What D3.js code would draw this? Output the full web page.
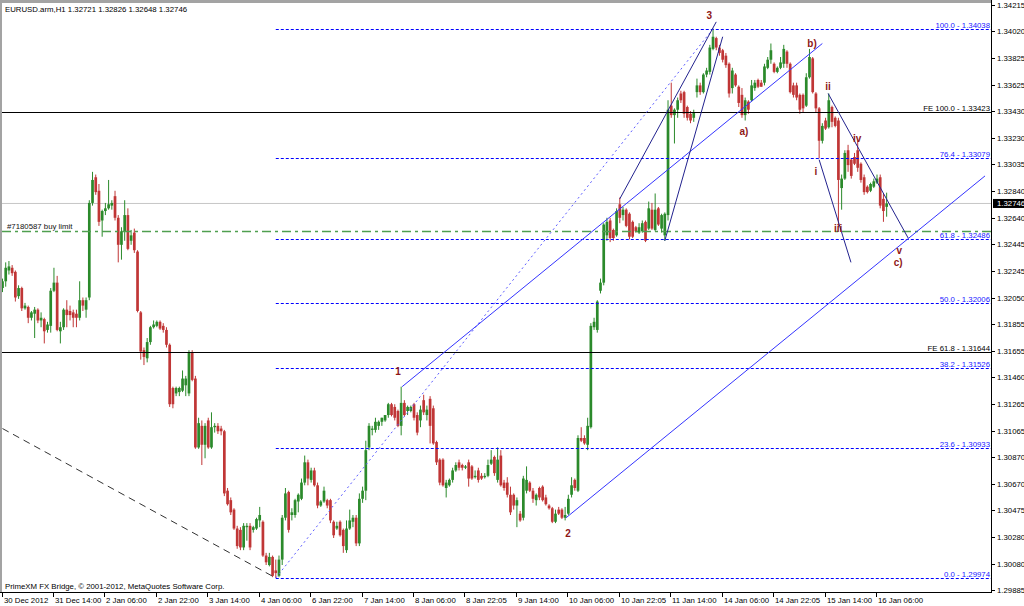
<!DOCTYPE html>
<html><head><meta charset="utf-8">
<script src="https://cdn.jsdelivr.net/npm/d3@7"></script>
<style>body{margin:0;background:#fff;}svg{display:block;}text{font-family:"Liberation Sans",Arial,sans-serif;}</style>
</head><body><svg id="c" width="1024" height="606"></svg>
<script>
// ---------- DATA ----------
const open = [
1.3212,1.3217,1.3225,1.3227,1.3224,1.3206,1.3212,1.3197,1.3198,1.3190,
1.3193,1.3196,1.3188,1.3189,1.3181,1.3184,1.3210,1.3216,1.3180,1.3183,
1.3196,1.3195,1.3194,1.3193,1.3190,1.3203,1.3196,1.3205,1.3275,1.3294,
1.3284,1.3262,1.3269,1.3271,1.3273,1.3280,1.3264,1.3244,1.3254,1.3266,
1.3247,1.3253,1.3239,1.3194,1.3166,1.3160,1.3172,1.3183,1.3184,1.3187,
1.3184,1.3181,1.3170,1.3138,1.3134,1.3135,1.3136,1.3140,1.3134,1.3164,
1.3145,1.3094,1.3110,1.3096,1.3114,1.3094,1.3109,1.3110,1.3108,1.3106,
1.3062,1.3055,1.3048,1.3034,1.3033,1.3020,1.3035,1.3036,1.3033,1.3034,
1.3040,1.3039,1.3014,1.3007,1.3013,1.3003,
1.2999,1.3011,1.3042,1.3061,1.3044,1.3044,1.3054,1.3056,1.3068,1.3083,
1.3070,1.3077,1.3066,1.3051,1.3054,1.3055,1.3055,1.3039,1.3034,1.3039,
1.3033,1.3018,1.3034,1.3039,1.3042,1.3023,1.3056,1.3062,1.3094,1.3107,
1.3107,1.3110,1.3113,1.3114,1.3118,1.3126,1.3124,1.3121,1.3110,1.3127,
1.3121,1.3121,1.3126,1.3118,1.3114,1.3129,1.3118,1.3130,1.3123,1.3098,
1.3085,1.3085,1.3064,1.3066,1.3070,1.3077,1.3083,1.3081,1.3079,1.3083,
1.3080,1.3072,1.3077,1.3073,1.3072,1.3073,1.3082,1.3087,1.3070,1.3088,
1.3068,1.3068,1.3059,1.3059,1.3051,1.3045,1.3042,1.3062,1.3068,1.3062,
1.3055,1.3064,1.3065,1.3057,1.3051,1.3049,1.3039,1.3048,1.3048,1.3042,
1.3045,1.3059,1.3070,1.3062,1.3101,1.3101,1.3096,
1.3109,1.3183,1.3181,1.3210,1.3216,1.3251,1.3262,1.3255,1.3251,1.3274,
1.3266,1.3270,1.3267,1.3261,1.3257,1.3253,1.3254,1.3261,1.3256,1.3270,
1.3255,1.3271,1.3256,1.3251,1.3266,1.3347,1.3340,1.3344,1.3356,1.3357,
1.3346,1.3341,1.3338,1.3357,1.3362,1.3357,1.3370,1.3372,1.3389,1.3397,
1.3390,1.3388,1.3384,1.3378,1.3360,1.3370,
1.3361,1.3355,1.3340,1.3350,1.3351,1.3360,1.3366,1.3364,1.3364,1.3375,
1.3381,1.3378,1.3372,1.3375,1.3378,1.3387,1.3378,1.3362,1.3362,1.3355,
1.3355,1.3347,1.3368,1.3382,1.3356,1.3345,1.3321,1.3336,1.3331,1.3346,
1.3338,1.3336,1.3286,1.3293,1.3314,1.3307,1.3309,1.3314,1.3304,1.3294,
1.3287,1.3284,1.3287,1.3290,1.3294,1.3278,1.32721];
const high = [
1.3219,1.3231,1.3232,1.3229,1.3225,1.3214,1.3213,1.3201,1.3199,1.3195,
1.3198,1.3197,1.3194,1.3190,1.3187,1.3212,1.3227,1.3221,1.3187,1.3197,
1.3203,1.3199,1.3196,1.3196,1.3217,1.3205,1.3205,1.3277,1.3298,1.3296,
1.3289,1.3270,1.3275,1.3292,1.3277,1.3284,1.3266,1.3257,1.3277,1.3271,
1.3255,1.3256,1.3240,1.3195,1.3168,1.3175,1.3184,1.3188,1.3188,1.3188,
1.3186,1.3183,1.3171,1.3139,1.3139,1.3139,1.3151,1.3147,1.3166,1.3166,
1.3147,1.3116,1.3114,1.3112,1.3116,1.3120,1.3112,1.3112,1.3110,1.3107,
1.3064,1.3057,1.3049,1.3036,1.3035,1.3038,1.3038,1.3038,1.3036,1.3042,
1.3050,1.3040,1.3016,1.3016,1.3014,1.3011,
1.3014,1.3044,1.3064,1.3062,1.3049,1.3056,1.3060,1.3071,1.3088,1.3085,
1.3079,1.3079,1.3068,1.3055,1.3065,1.3056,1.3056,1.3040,1.3039,1.3040,
1.3034,1.3040,1.3048,1.3044,1.3044,1.3060,1.3065,1.3099,1.3112,1.3110,
1.3116,1.3114,1.3116,1.3118,1.3127,1.3127,1.3126,1.3122,1.3139,1.3129,
1.3125,1.3125,1.3127,1.3120,1.3125,1.3133,1.3125,1.3132,1.3125,1.3099,
1.3086,1.3086,1.3070,1.3071,1.3079,1.3083,1.3085,1.3082,1.3081,1.3085,
1.3081,1.3077,1.3079,1.3075,1.3075,1.3085,1.3092,1.3088,1.3094,1.3092,
1.3070,1.3072,1.3065,1.3060,1.3057,1.3047,1.3073,1.3080,1.3069,1.3064,
1.3060,1.3065,1.3066,1.3059,1.3052,1.3050,1.3048,1.3050,1.3049,1.3050,
1.3059,1.3072,1.3071,1.3103,1.3109,1.3103,1.3116,
1.3186,1.3190,1.3203,1.3219,1.3260,1.3264,1.3264,1.3256,1.3271,1.3279,
1.3272,1.3271,1.3268,1.3262,1.3258,1.3260,1.3262,1.3262,1.3276,1.3275,
1.3282,1.3272,1.3267,1.3268,1.3351,1.3364,1.3345,1.3353,1.3358,1.3358,
1.3347,1.3343,1.3344,1.3367,1.3364,1.3371,1.3375,1.3392,1.3404,1.3398,
1.3392,1.3389,1.3386,1.3379,1.3375,1.3371,
1.3362,1.3360,1.3353,1.3351,1.3366,1.3366,1.3367,1.3366,1.3378,1.3383,
1.3393,1.3379,1.3376,1.3383,1.3392,1.3388,1.3379,1.3364,1.3364,1.3356,
1.3356,1.3371,1.3389,1.3383,1.3357,1.3346,1.3334,1.3338,1.3356,1.3347,
1.3339,1.3338,1.3296,1.3314,1.3318,1.3308,1.3312,1.3321,1.3305,1.3296,
1.3288,1.3290,1.3293,1.3296,1.3296,1.3282,1.32826];
const low = [
1.3209,1.3213,1.3222,1.3221,1.3202,1.3204,1.3195,1.3196,1.3186,1.3188,
1.3175,1.3186,1.3183,1.3171,1.3179,1.3179,1.3209,1.3180,1.3171,1.3181,
1.3183,1.3188,1.3183,1.3183,1.3188,1.3195,1.3190,1.3203,1.3273,1.3281,
1.3258,1.3250,1.3266,1.3270,1.3270,1.3262,1.3231,1.3233,1.3247,1.3240,
1.3244,1.3238,1.3194,1.3159,1.3155,1.3157,1.3170,1.3182,1.3183,1.3181,
1.3179,1.3168,1.3124,1.3123,1.3132,1.3132,1.3135,1.3132,1.3132,1.3143,
1.3093,1.3093,1.3081,1.3086,1.3093,1.3093,1.3105,1.3104,1.3103,1.3058,
1.3051,1.3044,1.3033,1.3019,1.3018,1.3018,1.3025,1.3018,1.3031,1.3033,
1.3035,1.3013,1.3007,1.3006,1.2998,1.29974,
1.2998,1.3007,1.3040,1.3031,1.3040,1.3042,1.3046,1.3055,1.3066,1.3066,
1.3068,1.3065,1.3049,1.3050,1.3053,1.3049,1.3038,1.3027,1.3033,1.3028,
1.3016,1.3016,1.3033,1.3035,1.3021,1.3021,1.3053,1.3055,1.3092,1.3103,
1.3105,1.3107,1.3110,1.3113,1.3116,1.3117,1.3114,1.3109,1.3103,1.3117,
1.3118,1.3120,1.3114,1.3103,1.3109,1.3118,1.3114,1.3097,1.3096,1.3081,
1.3066,1.3065,1.3057,1.3065,1.3068,1.3076,1.3077,1.3077,1.3078,1.3065,
1.3070,1.3071,1.3068,1.3070,1.3071,1.3072,1.3081,1.3073,1.3068,1.3065,
1.3062,1.3057,1.3044,1.3048,1.3035,1.3039,1.3040,1.3060,1.3061,1.3053,
1.3051,1.3055,1.3054,1.3051,1.3048,1.3038,1.3038,1.3044,1.3041,1.3040,
1.3044,1.3057,1.3062,1.3061,1.3098,1.3096,1.3092,
1.3108,1.3181,1.3179,1.3208,1.3214,1.3247,1.3246,1.3247,1.3250,1.3260,
1.3262,1.3257,1.3248,1.3249,1.3253,1.3252,1.3253,1.3246,1.3255,1.3255,
1.3254,1.3258,1.3253,1.3247,1.3262,1.3338,1.3319,1.3338,1.3349,1.3338,
1.3336,1.3334,1.3335,1.3353,1.3355,1.3356,1.3368,1.3370,1.3388,1.3388,
1.3384,1.3379,1.3375,1.3353,1.3356,1.3361,
1.3346,1.3338,1.3336,1.3341,1.3350,1.3358,1.3360,1.3361,1.3362,1.3374,
1.3378,1.3371,1.3371,1.3374,1.3375,1.3375,1.3356,1.3353,1.3351,1.3341,
1.3342,1.3346,1.3367,1.3356,1.3342,1.3308,1.3319,1.3329,1.3330,1.3331,
1.3331,1.3257,1.3270,1.3292,1.3298,1.3293,1.3303,1.3298,1.3290,1.3281,
1.3282,1.3283,1.3286,1.3289,1.3271,1.3261,1.32648];
const close = [
1.3217,1.3227,1.3228,1.3223,1.3205,1.3212,1.3197,1.3199,1.3190,1.3194,
1.3196,1.3188,1.3190,1.3180,1.3185,1.3210,1.3216,1.3181,1.3183,1.3196,
1.3192,1.3192,1.3190,1.3190,1.3203,1.3199,1.3203,1.3275,1.3292,1.3283,
1.3261,1.3269,1.3271,1.3274,1.3275,1.3264,1.3244,1.3254,1.3266,1.3241,
1.3251,1.3240,1.3195,1.3165,1.3161,1.3172,1.3183,1.3185,1.3187,1.3182,
1.3181,1.3170,1.3126,1.3126,1.3138,1.3138,1.3145,1.3145,1.3164,1.3144,
1.3094,1.3112,1.3096,1.3110,1.3094,1.3109,1.3110,1.3106,1.3106,1.3060,
1.3052,1.3046,1.3034,1.3021,1.3020,1.3036,1.3036,1.3020,1.3035,1.3041,
1.3044,1.3014,1.3009,1.3013,1.2999,1.3001,
1.3011,1.3042,1.3060,1.3033,1.3046,1.3055,1.3059,1.3068,1.3083,1.3071,
1.3077,1.3066,1.3051,1.3054,1.3062,1.3051,1.3040,1.3029,1.3036,1.3029,
1.3021,1.3034,1.3040,1.3042,1.3023,1.3056,1.3062,1.3092,1.3110,1.3108,
1.3113,1.3113,1.3116,1.3118,1.3126,1.3118,1.3116,1.3110,1.3127,1.3118,
1.3124,1.3124,1.3116,1.3105,1.3122,1.3120,1.3122,1.3110,1.3097,1.3083,
1.3068,1.3066,1.3068,1.3070,1.3077,1.3081,1.3079,1.3079,1.3080,1.3071,
1.3071,1.3073,1.3070,1.3071,1.3073,1.3081,1.3085,1.3075,1.3085,1.3066,
1.3064,1.3059,1.3046,1.3051,1.3055,1.3040,1.3071,1.3070,1.3062,1.3056,
1.3059,1.3057,1.3055,1.3052,1.3049,1.3039,1.3045,1.3045,1.3042,1.3044,
1.3056,1.3066,1.3064,1.3101,1.3099,1.3097,1.3110,
1.3184,1.3187,1.3202,1.3216,1.3259,1.3261,1.3249,1.3249,1.3269,1.3264,
1.3270,1.3258,1.3250,1.3250,1.3254,1.3257,1.3260,1.3247,1.3271,1.3256,
1.3270,1.3259,1.3266,1.3267,1.3344,1.3340,1.3344,1.3351,1.3351,1.3341,
1.3338,1.3336,1.3342,1.3362,1.3357,1.3370,1.3373,1.3390,1.3398,1.3390,
1.3386,1.3381,1.3377,1.3356,1.3373,1.3362,
1.3349,1.3340,1.3351,1.3344,1.3362,1.3364,1.3361,1.3361,1.3376,1.3381,
1.3388,1.3372,1.3375,1.3379,1.3389,1.3378,1.3357,1.3355,1.3353,1.3344,
1.3345,1.3368,1.3383,1.3357,1.3345,1.3321,1.3332,1.3330,1.3351,1.3335,
1.3332,1.3292,1.3293,1.3312,1.3303,1.3295,1.3304,1.3301,1.3292,1.3283,
1.3283,1.3289,1.3291,1.3293,1.3273,1.3269,1.32746];

const priceTicks = [1.34215,1.34020,1.33825,1.33625,1.33430,1.33230,1.33035,1.32840,1.32640,1.32445,1.32245,1.32050,1.31855,1.31655,1.31460,1.31265,1.31065,1.30870,1.30670,1.30475,1.30280,1.30080,1.29885];
const timeLabels = ["30 Dec 2012","31 Dec 14:00","2 Jan 06:00","2 Jan 22:00","3 Jan 14:00","4 Jan 06:00","6 Jan 22:00","7 Jan 14:00","8 Jan 06:00","8 Jan 22:05","9 Jan 14:00","10 Jan 06:00","10 Jan 22:05","11 Jan 14:00","14 Jan 06:00","14 Jan 22:05","15 Jan 14:00","16 Jan 06:00"];
const barsPerLabel = 16;
const fibNames = ["100.0","76.4","61.8","50.0","38.2","23.6","0.0"];
const fibPrices = [1.34038,1.33079,1.32486,1.32006,1.31526,1.30933,1.29974];
const fibStartBar = 85;
const feNames = ["FE 100.0","FE 61.8"];
const fePrices = [1.33423,1.31644];
const bidPrice = 1.32746;
const orderLabel = "#7180587 buy limit";
const orderPrice = 1.3254;
const titleText = "EURUSD.arm,H1  1.32721 1.32826 1.32648 1.32746";
const footerText = "PrimeXM FX Bridge, \u00a9 2001-2012, MetaQuotes Software Corp.";
// trend lines: [bar, price] pairs
const dashedTrend = [[0,1.3108],[85,1.29974]];
const fibBaseline = [[85,1.29974],[221,1.34038]];
const channelUpper = [[124.3,1.3139],[255,1.3393]];
const channelLower = [[175.3,1.3042],[305.6,1.3295]];
const wave3A = [[192,1.3278],[222,1.3409]];
const wave3B = [[206,1.3247],[224,1.3398]];
const diagUpper = [[256.8,1.3356],[281.7,1.3249]];
const diagLower = [[254,1.3307],[263.9,1.3231]];
const waveLabels = ["3","1","2","a)","b)","i","ii","iii","iv","v","c)"];
const waveBars   = [219.8,123,175.9,230.6,251.8,253,256.8,259.9,265.8,278.9,278.6];
const wavePrices = [1.3414,1.3150,1.3030,1.3328,1.3393,1.3298,1.3361,1.3256,1.3323,1.3240,1.3231];

// ---------- DRAW ----------
const W=1024,H=606;
const P={l:2,t:3,r:991,b:592};
const x = d3.scaleLinear().domain([0,272]).range([2.5,877]);
const y = d3.scaleLinear().domain([1.29885,1.34215]).range([590,5]);
const svg = d3.select("#c");
svg.append("rect").attr("width",W).attr("height",H).attr("fill","#fff");
svg.append("defs").append("clipPath").attr("id","pc").append("rect")
  .attr("x",P.l).attr("y",P.t).attr("width",P.r-P.l).attr("height",P.b-P.t);
const g = svg.append("g").attr("clip-path","url(#pc)");

// bid line
g.append("line").attr("x1",P.l).attr("x2",P.r).attr("y1",y(bidPrice)).attr("y2",y(bidPrice))
  .attr("stroke","#c6c6c6").attr("stroke-width",1);

// candles
const bars = d3.range(open.length).map(i=>({i,o:open[i],h:high[i],l:low[i],c:close[i]}));
const UP="#2b8a2b", DN="#c03636";
const cg = g.append("g");
cg.selectAll("line.w").data(bars).join("line").attr("class","w")
  .attr("x1",d=>x(d.i)).attr("x2",d=>x(d.i)).attr("y1",d=>y(d.h)).attr("y2",d=>y(d.l))
  .attr("stroke",d=>d.c>=d.o?UP:DN).attr("stroke-width",1);
cg.selectAll("rect.b").data(bars).join("rect").attr("class","b")
  .attr("x",d=>x(d.i)-1.35).attr("width",2.7)
  .attr("y",d=>y(Math.max(d.o,d.c)))
  .attr("height",d=>Math.max(1,Math.abs(y(d.o)-y(d.c))))
  .attr("fill",d=>d.c>=d.o?UP:DN);

// FE lines
feNames.forEach((n,k)=>{
  const yy=Math.round(y(fePrices[k]))+0.5;
  g.append("line").attr("x1",P.l).attr("x2",P.r).attr("y1",yy).attr("y2",yy).attr("stroke","#000").attr("stroke-width",1);
  svg.append("text").attr("x",P.r-1).attr("y",yy-2).attr("text-anchor","end").attr("font-size",7.8)
    .attr("fill","#000").text(n+" - "+fePrices[k].toFixed(5));
});
// fib lines
fibNames.forEach((n,k)=>{
  const yy=Math.round(y(fibPrices[k]))+0.5;
  g.append("line").attr("x1",x(fibStartBar)).attr("x2",P.r).attr("y1",yy).attr("y2",yy)
    .attr("stroke","#0000ff").attr("stroke-width",1).attr("stroke-dasharray","3,2");
  svg.append("text").attr("x",P.r-1).attr("y",yy-2).attr("text-anchor","end").attr("font-size",7.8)
    .attr("fill","#1a1aff").text(n+" - "+fibPrices[k].toFixed(5));
});
// order line
const oy=Math.round(y(orderPrice))+0.5;
g.append("line").attr("x1",P.l).attr("x2",P.r).attr("y1",oy).attr("y2",oy)
  .attr("stroke","#4f9f4f").attr("stroke-width",1.6).attr("stroke-dasharray","9,4,3,4");
svg.append("text").attr("x",7).attr("y",oy-3).attr("font-size",7.8).attr("fill","#111").text(orderLabel);

// trend lines
const seg=(pts,color,dash,w)=>g.append("line")
  .attr("x1",x(pts[0][0])).attr("y1",y(pts[0][1])).attr("x2",x(pts[1][0])).attr("y2",y(pts[1][1]))
  .attr("stroke",color).attr("stroke-width",w||1).attr("stroke-dasharray",dash||null);
seg(dashedTrend,"#333","7,5");
seg(fibBaseline,"#5c5cff","2,3");
seg(channelUpper,"#3434ff");
seg(channelLower,"#3434ff");
seg(wave3A,"#22228e");
seg(wave3B,"#22228e");
seg(diagUpper,"#22228e");
seg(diagLower,"#22228e");

// wave labels
waveLabels.forEach((t,k)=>{
  svg.append("text").attr("x",x(waveBars[k])).attr("y",y(wavePrices[k])).attr("dy","0.35em")
    .attr("text-anchor","middle").attr("font-family","'Liberation Serif',serif").attr("font-weight","bold")
    .attr("font-size",10).attr("fill","#8e1717").text(t);
});

// frame
svg.append("rect").attr("x",0).attr("y",0).attr("width",P.r).attr("height",3).attr("fill","#a3a3a3");
svg.append("rect").attr("x",0).attr("y",0).attr("width",2).attr("height",P.b).attr("fill","#a3a3a3");
svg.append("line").attr("x1",P.r+0.5).attr("x2",P.r+0.5).attr("y1",0).attr("y2",P.b+1).attr("stroke","#000");
svg.append("line").attr("x1",0).attr("x2",P.r+1).attr("y1",P.b+0.5).attr("y2",P.b+0.5).attr("stroke","#000");

// price axis
const ax = svg.append("g");
priceTicks.forEach(p=>{
  const yy=Math.round(y(p))+0.5;
  ax.append("line").attr("x1",P.r+1).attr("x2",P.r+4).attr("y1",yy).attr("y2",yy).attr("stroke","#000");
  ax.append("text").attr("x",P.r+6).attr("y",yy).attr("dy","0.35em").attr("font-size",7.8).attr("fill","#000").text(p.toFixed(5));
});
const by=y(bidPrice);
ax.append("rect").attr("x",P.r+2).attr("y",by-4.5).attr("width",31).attr("height",9).attr("fill","#000");
ax.append("text").attr("x",P.r+6).attr("y",by).attr("dy","0.35em").attr("font-size",7.8).attr("fill","#fff").text(bidPrice.toFixed(5));

// time axis
timeLabels.forEach((t,k)=>{
  const xx=Math.round(x(k*barsPerLabel))-0.5;
  ax.append("line").attr("x1",xx).attr("x2",xx).attr("y1",P.b+1).attr("y2",P.b+5).attr("stroke","#000");
  ax.append("text").attr("x",xx+1.5).attr("y",603).attr("font-size",7.8).attr("fill","#000").text(t);
});

// title & footer
svg.append("text").attr("x",5).attr("y",12).attr("font-size",7.8).attr("fill","#000").text(titleText);
svg.append("text").attr("x",5).attr("y",589).attr("font-size",7.8).attr("fill","#000").text(footerText);
</script></body></html>
